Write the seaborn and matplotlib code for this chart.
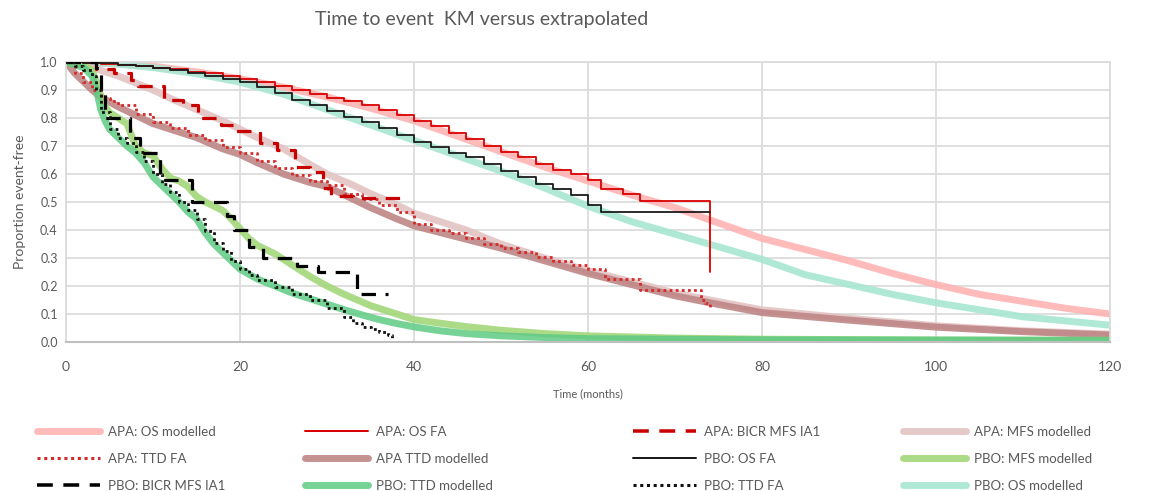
import numpy as np
import pandas as pd
import matplotlib
matplotlib.use("Agg")
import matplotlib.pyplot as plt
from matplotlib.lines import Line2D
import seaborn as sns

# ---------------- data ----------------
title = "Time to event  KM versus extrapolated"
x_label = "Time (months)"
y_label = "Proportion event-free"
x_ticks = [0, 20, 40, 60, 80, 100, 120]
y_ticks = [0.0, 0.1, 0.2, 0.3, 0.4, 0.5, 0.6, 0.7, 0.8, 0.9, 1.0]

apa_os_mod_t = [0, 5, 10, 15, 20, 25, 30, 35, 40, 45, 50, 55, 60, 65, 70, 75, 80, 85, 90, 95, 100, 105, 110, 115, 120]
apa_os_mod_s = [1.0, 0.995, 0.985, 0.965, 0.94, 0.91, 0.875, 0.835, 0.79, 0.735, 0.68, 0.625, 0.575, 0.525, 0.48, 0.425, 0.37, 0.33, 0.29, 0.245, 0.205, 0.17, 0.145, 0.12, 0.10]

apa_os_fa_t = [0, 2, 4, 6, 8, 10, 12, 14, 16, 18, 20, 22, 24, 26, 28, 30, 32, 34, 36, 38, 40, 42, 44, 46, 48, 50, 52, 54, 56, 58, 60, 61.5, 64, 66, 74]
apa_os_fa_s = [1.0, 0.997, 0.993, 0.99, 0.985, 0.98, 0.975, 0.965, 0.96, 0.95, 0.94, 0.93, 0.915, 0.90, 0.885, 0.87, 0.86, 0.845, 0.83, 0.81, 0.79, 0.77, 0.745, 0.725, 0.70, 0.68, 0.66, 0.635, 0.615, 0.60, 0.58, 0.545, 0.53, 0.505, 0.25]

apa_mfs_ia1_t = [0, 3.5, 5.5, 7.5, 8.3, 11.3, 13.5, 15.2, 17.8, 19.5, 22.3, 24.3, 26.3, 28, 29.5, 30.5, 33, 39.3]
apa_mfs_ia1_s = [1.0, 0.975, 0.96, 0.935, 0.915, 0.865, 0.845, 0.80, 0.775, 0.755, 0.71, 0.686, 0.625, 0.607, 0.55, 0.52, 0.515, 0.515]

apa_mfs_mod_t = [0, 2, 4, 6, 8, 10, 12, 15, 18, 20, 22, 25, 28, 30, 33, 35, 38, 40, 43, 46, 50, 55, 60, 65, 70, 74, 80, 90, 100, 110, 120]
apa_mfs_mod_s = [1.0, 0.99, 0.97, 0.95, 0.925, 0.90, 0.87, 0.83, 0.79, 0.76, 0.73, 0.69, 0.635, 0.60, 0.56, 0.53, 0.49, 0.46, 0.43, 0.40, 0.35, 0.30, 0.255, 0.215, 0.175, 0.15, 0.115, 0.085, 0.058, 0.04, 0.028]

apa_ttd_fa_t = [0, 1, 2, 3, 4, 5, 6, 8, 10, 12, 14, 16, 18, 20, 22, 24, 26, 28, 30, 32, 34, 36, 38, 40, 42, 44, 46, 48, 50, 52, 54, 56, 58, 60, 62, 66, 73, 73.5, 74]
apa_ttd_fa_s = [1.0, 0.96, 0.93, 0.90, 0.87, 0.86, 0.845, 0.815, 0.785, 0.765, 0.74, 0.72, 0.695, 0.675, 0.645, 0.62, 0.595, 0.575, 0.56, 0.53, 0.51, 0.49, 0.465, 0.42, 0.40, 0.39, 0.37, 0.35, 0.335, 0.32, 0.305, 0.29, 0.275, 0.26, 0.225, 0.185, 0.15, 0.14, 0.12]

apa_ttd_mod_t = [0, 1, 2, 3, 4, 6, 8, 10, 12, 15, 18, 20, 22, 25, 28, 30, 33, 35, 38, 40, 45, 50, 55, 60, 65, 70, 74, 80, 90, 100, 110, 120]
apa_ttd_mod_s = [1.0, 0.96, 0.93, 0.90, 0.875, 0.84, 0.81, 0.78, 0.76, 0.73, 0.69, 0.67, 0.64, 0.60, 0.57, 0.555, 0.51, 0.48, 0.44, 0.415, 0.375, 0.335, 0.29, 0.245, 0.205, 0.165, 0.14, 0.105, 0.078, 0.053, 0.037, 0.025]

pbo_os_fa_t = [0, 2, 4, 6, 8, 10, 12, 14, 16, 18, 20, 22, 24, 26, 28, 30, 32, 34, 36, 38, 40, 42, 44, 46, 48, 50, 52, 54, 56, 58, 60, 61.5, 74]
pbo_os_fa_s = [1.0, 0.998, 0.995, 0.99, 0.985, 0.978, 0.97, 0.96, 0.95, 0.94, 0.93, 0.91, 0.89, 0.865, 0.845, 0.825, 0.805, 0.785, 0.765, 0.74, 0.715, 0.695, 0.675, 0.66, 0.635, 0.61, 0.59, 0.565, 0.545, 0.525, 0.49, 0.465, 0.465]

pbo_mfs_mod_t = [0, 1, 2, 3, 3.5, 4, 4.5, 5, 6, 7, 8, 9, 10, 11, 12, 13, 14, 15, 16, 17, 18, 19, 20, 21, 22, 24, 26, 28, 30, 32, 35, 38, 40, 43, 46, 50, 55, 60, 70, 80, 100, 120]
pbo_mfs_mod_s = [1.0, 0.995, 0.99, 0.97, 0.93, 0.88, 0.84, 0.82, 0.80, 0.78, 0.70, 0.675, 0.665, 0.62, 0.585, 0.575, 0.555, 0.52, 0.50, 0.485, 0.47, 0.44, 0.405, 0.37, 0.345, 0.315, 0.275, 0.235, 0.20, 0.17, 0.13, 0.10, 0.08, 0.067, 0.055, 0.042, 0.03, 0.022, 0.014, 0.01, 0.007, 0.006]

pbo_mfs_ia1_t = [0, 3.5, 4.0, 4.5, 7.3, 8.5, 10.8, 14.5, 18.5, 19.3, 21.0, 22.6, 26.5, 29.0, 33.4, 37.0]
pbo_mfs_ia1_s = [1.0, 0.98, 0.90, 0.80, 0.73, 0.675, 0.58, 0.50, 0.45, 0.40, 0.34, 0.30, 0.27, 0.25, 0.17, 0.17]

pbo_ttd_mod_t = [0, 1, 2, 3, 3.5, 4, 4.5, 5, 6, 7, 8, 9, 10, 11, 12, 13, 14, 15, 16, 17, 18, 19, 20, 22, 24, 26, 28, 30, 32, 34, 36, 38, 40, 43, 46, 50, 55, 60, 70, 80, 120]
pbo_ttd_mod_s = [1.0, 0.99, 0.98, 0.95, 0.90, 0.83, 0.79, 0.76, 0.73, 0.70, 0.675, 0.64, 0.59, 0.56, 0.53, 0.50, 0.465, 0.44, 0.39, 0.35, 0.32, 0.29, 0.26, 0.225, 0.20, 0.175, 0.155, 0.135, 0.115, 0.097, 0.08, 0.066, 0.054, 0.04, 0.03, 0.022, 0.016, 0.012, 0.01, 0.008, 0.006]

pbo_ttd_fa_t = [0, 1, 2, 3, 3.5, 4, 5, 6, 7, 8, 9, 10, 11, 12, 13, 14, 15, 16, 17, 18, 19, 20, 21, 22, 24, 26, 28, 30, 32, 33, 34, 35, 36, 37, 37.5]
pbo_ttd_fa_s = [1.0, 0.985, 0.97, 0.95, 0.90, 0.82, 0.76, 0.73, 0.71, 0.68, 0.645, 0.60, 0.565, 0.535, 0.50, 0.47, 0.44, 0.395, 0.355, 0.325, 0.29, 0.26, 0.24, 0.22, 0.195, 0.17, 0.15, 0.12, 0.09, 0.068, 0.055, 0.045, 0.035, 0.025, 0.01]

pbo_os_mod_t = [0, 5, 10, 15, 20, 25, 30, 35, 40, 45, 50, 55, 60, 65, 70, 75, 80, 85, 90, 95, 100, 105, 110, 115, 120]
pbo_os_mod_s = [1.0, 0.995, 0.98, 0.958, 0.928, 0.885, 0.83, 0.775, 0.72, 0.665, 0.61, 0.55, 0.485, 0.43, 0.385, 0.34, 0.295, 0.24, 0.205, 0.17, 0.14, 0.115, 0.09, 0.075, 0.06]

# ---------------- style ----------------
sns.set_theme(style="white")
plt.rcParams["font.family"] = ["Lato", "DejaVu Sans"]
GRAY_TXT = "#595959"
GRID = "#d9d9d9"

fig = plt.figure(figsize=(11.56, 4.91), dpi=100)
ax = fig.add_axes([66 / 1156, 1 - 342 / 491, (1110 - 66) / 1156, (342 - 62) / 491])

series = [
    # (label, t, s, color, lw, linestyle, drawstyle, alpha, z)
    ("APA: OS modelled", apa_os_mod_t, apa_os_mod_s, "#ffb3b3", 5.0, "-", "default", 0.9, 2),
    ("PBO: OS modelled", pbo_os_mod_t, pbo_os_mod_s, "#a8e6d2", 5.0, "-", "default", 0.9, 2),
    ("APA: MFS modelled", apa_mfs_mod_t, apa_mfs_mod_s, "#e3c3c3", 5.0, "-", "default", 0.9, 2),
    ("APA TTD modelled", apa_ttd_mod_t, apa_ttd_mod_s, "#bf8686", 5.0, "-", "default", 0.9, 2),
    ("PBO: MFS modelled", pbo_mfs_mod_t, pbo_mfs_mod_s, "#a3d77a", 5.0, "-", "default", 0.9, 2),
    ("PBO: TTD modelled", pbo_ttd_mod_t, pbo_ttd_mod_s, "#5fca84", 5.0, "-", "default", 0.85, 2),
    ("APA: OS FA", apa_os_fa_t, apa_os_fa_s, "#d90000", 1.3, "-", "steps-post", 1.0, 4),
    ("PBO: OS FA", pbo_os_fa_t, pbo_os_fa_s, "#1a1a1a", 1.3, "-", "steps-post", 1.0, 4),
    ("APA: TTD FA", apa_ttd_fa_t, apa_ttd_fa_s, "#d42a2a", 2.0, (0, (1, 1.2)), "steps-post", 1.0, 4),
    ("APA: BICR MFS IA1", apa_mfs_ia1_t, apa_mfs_ia1_s, "#c80000", 2.3, (0, (4.5, 3)), "steps-post", 1.0, 4),
    ("PBO: BICR MFS IA1", pbo_mfs_ia1_t, pbo_mfs_ia1_s, "#000000", 2.3, (0, (4.5, 3)), "steps-post", 1.0, 4),
    ("PBO: TTD FA", pbo_ttd_fa_t, pbo_ttd_fa_s, "#111111", 2.0, (0, (1, 1.2)), "steps-post", 1.0, 4),
]

handles = {}
for label, t, s, color, lw, ls, ds, alpha, z in series:
    df = pd.DataFrame({"t": t, "s": s})
    sns.lineplot(data=df, x="t", y="s", ax=ax, color=color, linewidth=lw,
                 linestyle=ls, drawstyle=ds, alpha=alpha, zorder=z,
                 errorbar=None, sort=False, legend=False)
    handles[label] = Line2D([0], [0], color=color, lw=lw if lw > 3 else lw * 1.1,
                            linestyle=ls, alpha=alpha)

ax.set_xlim(0, 120)
ax.set_ylim(0, 1.0)
ax.set_xticks(x_ticks)
ax.set_yticks(y_ticks)
ax.set_xticklabels([str(v) for v in x_ticks])
ax.set_yticklabels([f"{v:.1f}" for v in y_ticks])
ax.tick_params(axis="x", labelsize=10, colors=GRAY_TXT, length=0, pad=14)
ax.tick_params(axis="y", labelsize=9, colors=GRAY_TXT, length=0, pad=6)
ax.grid(True, color=GRID, linewidth=1.2, zorder=0)
ax.set_axisbelow(True)
for side in ["top", "right", "left"]:
    ax.spines[side].set_color(GRID)
    ax.spines[side].set_linewidth(1.2)
ax.spines["bottom"].set_color("#bfbfbf")
ax.spines["bottom"].set_linewidth(1.5)
ax.set_xlabel(x_label, fontsize=8, color=GRAY_TXT, labelpad=11)
ax.set_ylabel(y_label, fontsize=10, color=GRAY_TXT, labelpad=10)

fig.text(482 / 1156, 1 - 20 / 491, title, ha="center", va="center", fontsize=14, color=GRAY_TXT)

legend_cols = [
    (37, ["APA: OS modelled", "APA: TTD FA", "PBO: BICR MFS IA1"]),
    (305, ["APA: OS FA", "APA TTD modelled", "PBO: TTD modelled"]),
    (633, ["APA: BICR MFS IA1", "PBO: OS FA", "PBO: TTD FA"]),
    (903, ["APA: MFS modelled", "PBO: MFS modelled", "PBO: OS modelled"]),
]
for x0, labels in legend_cols:
    leg = fig.legend([handles[l] for l in labels], labels, loc="upper left",
                     bbox_to_anchor=(x0 / 1156, 1 - 426 / 491), frameon=False,
                     fontsize=9.5, handlelength=4.8, handletextpad=0.6,
                     labelspacing=1.12, borderpad=0, borderaxespad=0)
    for txt in leg.get_texts():
        txt.set_color(GRAY_TXT)

fig.savefig("out.png", dpi=100)
